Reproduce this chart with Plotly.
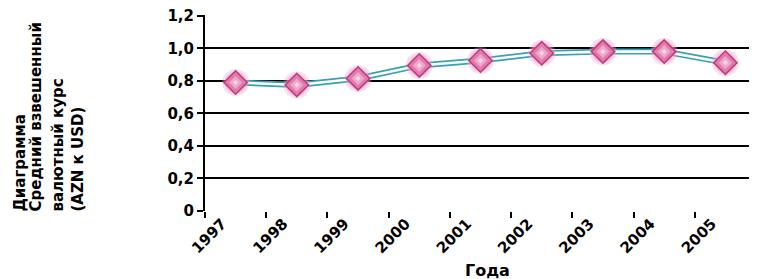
import plotly.graph_objects as go

years = ["1997", "1998", "1999", "2000", "2001", "2002", "2003", "2004", "2005"]
rates = [0.79, 0.775, 0.815, 0.895, 0.925, 0.97, 0.98, 0.98, 0.912]
y_ticks = [0, 0.2, 0.4, 0.6, 0.8, 1.0, 1.2]
y_tick_labels = ["0", "0,2", "0,4", "0,6", "0,8", "1,0", "1,2"]
y_title_lines = ["Диаграмма", "Средний взвешенный", "валютный курс", "(AZN к USD)"]
x_title = "Года"

n = len(years)
xpos = [i + 0.5 for i in range(n)]

FONT = "DejaVu Sans"
OFF = 8  # page body margin offset
W, H = 757, 279
YTOP = 1.205
PLOT_B = 211 - OFF
T = round(PLOT_B - (PLOT_B - (16 - OFF)) * YTOP / 1.2)
L = 205 - OFF
PLOT_R = 756 - OFF
R = W - PLOT_R
B = H - PLOT_B

fig = go.Figure()
fig.add_trace(go.Scatter(x=xpos, y=rates, mode="lines",
                         line=dict(color="#3a9fb5", width=6), hoverinfo="skip"))
fig.add_trace(go.Scatter(x=xpos, y=rates, mode="lines",
                         line=dict(color="white", width=2.6), hoverinfo="skip"))
fig.add_trace(go.Scatter(x=xpos, y=rates, mode="markers",
                         marker=dict(symbol="circle", size=27, color="rgba(236,170,205,0.35)",
                                     line=dict(width=0)), hoverinfo="skip"))
fig.add_trace(go.Scatter(x=xpos, y=rates, mode="markers",
                         marker=dict(symbol="circle", size=22, color="rgba(236,170,205,0.5)",
                                     line=dict(width=0)), hoverinfo="skip"))
fig.add_trace(go.Scatter(x=xpos, y=rates, mode="markers",
                         marker=dict(symbol="diamond", size=18, color="#e27aae",
                                     line=dict(color="#c0397c", width=1.5))))
fig.add_trace(go.Scatter(x=xpos, y=rates, mode="markers",
                         marker=dict(symbol="diamond", size=10, color="#ecaacb",
                                     line=dict(width=0)), hoverinfo="skip"))
fig.add_trace(go.Scatter(x=xpos, y=rates, mode="markers",
                         marker=dict(symbol="diamond", size=4, color="#f6d6e6",
                                     line=dict(width=0)), hoverinfo="skip"))

tickfont = dict(family=FONT, size=15, color="black", weight="bold")

fig.update_layout(
    width=W, height=H, margin=dict(l=L, r=R, t=T, b=B, pad=0, autoexpand=False),
    paper_bgcolor="white", plot_bgcolor="white", showlegend=False,
    xaxis=dict(range=[0, n], tickmode="array",
               tickvals=[i + 0.28 for i in range(n)], ticktext=years,
               tickangle=-45, ticks="", tickfont=tickfont, showgrid=False,
               zeroline=False, showline=False, ticklabeloverflow="allow", automargin=False,
               minor=dict(tickmode="array", tickvals=list(range(n + 1)), ticks="outside",
                          ticklen=6, tickwidth=2, tickcolor="black", showgrid=False)),
    yaxis=dict(range=[0, YTOP], tickmode="array", tickvals=y_ticks, ticktext=y_tick_labels,
               ticks="outside", ticklen=6, tickwidth=2, tickcolor="black",
               tickfont=tickfont, showgrid=True, gridcolor="black", gridwidth=2,
               ticklabeloverflow="allow", automargin=False,
               zeroline=False, showline=True, linecolor="black", linewidth=2),
)

pw = PLOT_R - L
ph = PLOT_B - T
# (x position in page px, anchor)
yline_x = [(8, "left"), (35, "center"), (57, "center"), (77, "center")]
for (xp, anc), txt in zip(yline_x, y_title_lines):
    fig.add_annotation(text=txt, xref="paper", yref="paper",
                       x=(xp - OFF - L) / pw, y=(PLOT_B - (214 - OFF)) / ph,
                       xanchor=anc, yanchor="bottom", textangle=-90, showarrow=False,
                       font=dict(family=FONT, size=15, color="black", weight="bold"))

fig.add_annotation(text=x_title, xref="paper", yref="paper",
                   x=(487 - OFF - L) / pw, y=(PLOT_B - (270 - OFF)) / ph,
                   xanchor="center", yanchor="middle", showarrow=False,
                   font=dict(family=FONT, size=16, color="black", weight="bold"))

fig.write_html("out.html")
